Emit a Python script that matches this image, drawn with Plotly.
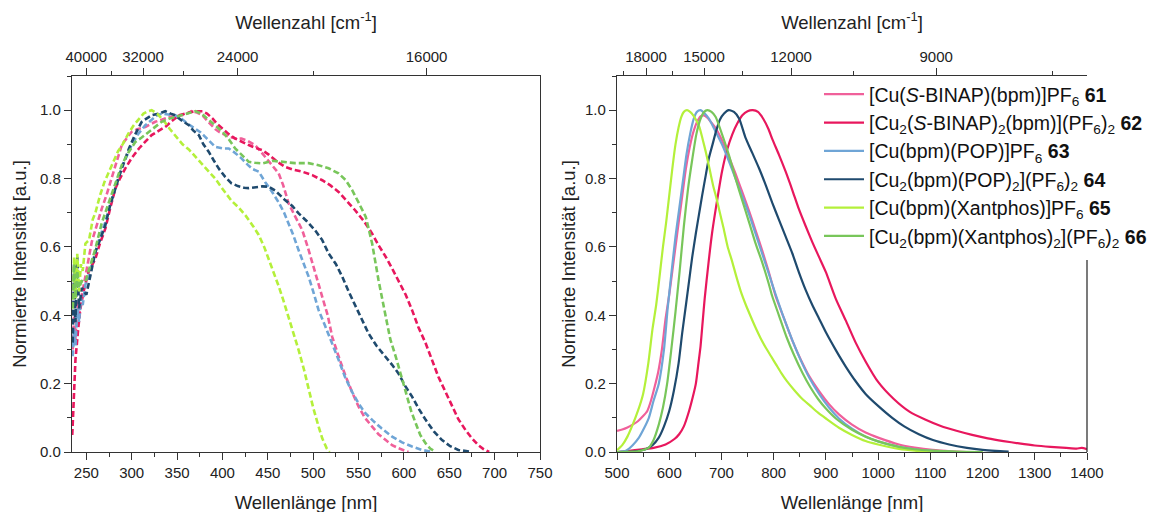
import plotly.graph_objects as go

# ---------------- data: left panel (excitation / absorption, dashed) ----------------
abs61_nm = [235, 236.5, 238, 240, 242, 245, 248, 252, 256, 260, 263, 267, 272, 278, 284, 289, 295, 300, 307, 315, 320, 326, 333, 341, 348, 355, 361, 366, 372, 378, 383, 388, 392, 396, 401, 407, 414, 421, 428, 436, 442, 448, 455, 462, 467, 473, 480, 488, 494, 499, 505, 510, 516, 521, 528, 536, 543, 550, 557, 565, 572, 580, 587, 594, 600, 605]
abs61_y = [0.30, 0.40, 0.33, 0.44, 0.40, 0.46, 0.50, 0.56, 0.615, 0.65, 0.68, 0.712, 0.75, 0.80, 0.85, 0.898, 0.92, 0.937, 0.945, 0.951, 0.958, 0.966, 0.972, 0.98, 0.983, 0.985, 0.99, 0.997, 0.993, 0.985, 0.97, 0.956, 0.945, 0.937, 0.93, 0.922, 0.918, 0.917, 0.91, 0.898, 0.88, 0.86, 0.84, 0.815, 0.78, 0.727, 0.69, 0.649, 0.60, 0.552, 0.50, 0.454, 0.40, 0.337, 0.28, 0.22, 0.175, 0.133, 0.10, 0.074, 0.052, 0.035, 0.02, 0.011, 0.004, 0.0]

abs62_nm = [234.5, 236, 238, 241, 243.5, 247, 252.5, 256, 260, 265, 271, 276, 282, 287, 293, 300, 308, 315, 322, 330, 337, 344, 352, 359, 366, 372, 378, 383, 389, 394, 400, 407, 414, 421, 429, 436, 444, 451, 460, 469, 478, 488, 499, 510, 519, 528, 537, 546, 556, 565, 572, 580, 587, 594, 602, 609, 616, 624, 631, 638, 646, 653, 660, 668, 675, 682, 688, 694]
abs62_y = [0.05, 0.16, 0.27, 0.36, 0.42, 0.47, 0.527, 0.545, 0.566, 0.61, 0.654, 0.71, 0.771, 0.80, 0.83, 0.86, 0.888, 0.908, 0.927, 0.94, 0.951, 0.968, 0.985, 0.99, 0.995, 0.997, 0.997, 0.99, 0.976, 0.96, 0.946, 0.93, 0.917, 0.907, 0.898, 0.89, 0.883, 0.87, 0.85, 0.834, 0.826, 0.82, 0.81, 0.795, 0.78, 0.761, 0.735, 0.708, 0.675, 0.639, 0.605, 0.571, 0.537, 0.503, 0.46, 0.415, 0.365, 0.318, 0.27, 0.22, 0.175, 0.133, 0.096, 0.064, 0.04, 0.02, 0.008, 0.0]

abs63_nm = [235, 236.5, 238, 240, 242, 244, 246, 249, 253, 256, 260, 265, 271, 278, 285, 292, 300, 307, 315, 322, 328, 333, 340, 348, 355, 362, 370, 376, 381, 387, 392, 400, 407, 414, 421, 428, 433, 440, 447, 455, 462, 468, 473, 478, 484, 490, 495, 500, 506, 513, 521, 528, 535, 543, 550, 557, 565, 575, 587, 598, 609, 620, 631]
abs63_y = [0.28, 0.36, 0.31, 0.42, 0.38, 0.45, 0.43, 0.49, 0.52, 0.55, 0.586, 0.63, 0.673, 0.74, 0.80, 0.85, 0.898, 0.93, 0.956, 0.972, 0.985, 0.99, 0.987, 0.985, 0.975, 0.96, 0.946, 0.935, 0.922, 0.905, 0.893, 0.888, 0.888, 0.875, 0.859, 0.84, 0.828, 0.82, 0.79, 0.76, 0.73, 0.70, 0.669, 0.635, 0.59, 0.55, 0.513, 0.47, 0.415, 0.37, 0.318, 0.27, 0.22, 0.175, 0.142, 0.115, 0.094, 0.07, 0.045, 0.028, 0.016, 0.006, 0.0]

abs64_nm = [235, 236.5, 238, 240, 242, 245, 250, 255, 260, 265, 271, 276, 282, 289, 297, 304, 311, 317, 322, 330, 337, 343, 348, 355, 363, 368, 374, 379, 385, 390, 396, 403, 410, 417, 424, 429, 436, 444, 451, 458, 464, 469, 477, 484, 493, 502, 510, 517, 525, 532, 539, 547, 554, 561, 570, 580, 587, 594, 601, 609, 616, 624, 633, 642, 651, 660, 668, 675]
abs64_y = [0.32, 0.55, 0.38, 0.57, 0.42, 0.48, 0.46, 0.52, 0.586, 0.62, 0.664, 0.72, 0.771, 0.83, 0.888, 0.93, 0.966, 0.977, 0.985, 0.99, 0.997, 0.99, 0.985, 0.97, 0.956, 0.94, 0.927, 0.90, 0.878, 0.855, 0.829, 0.805, 0.786, 0.778, 0.773, 0.772, 0.775, 0.777, 0.776, 0.765, 0.75, 0.737, 0.72, 0.698, 0.675, 0.649, 0.62, 0.581, 0.55, 0.513, 0.47, 0.425, 0.385, 0.347, 0.31, 0.279, 0.255, 0.23, 0.195, 0.162, 0.128, 0.094, 0.06, 0.035, 0.017, 0.006, 0.002, 0.0]

abs65_nm = [235, 236.5, 238, 240, 242, 244, 246, 249, 253, 257, 260, 265, 270, 275, 280, 285, 290, 296, 302, 308, 313, 318, 322, 328, 335, 342, 348, 356, 363, 370, 378, 385, 392, 400, 410, 418, 426, 434, 440, 446, 451, 457, 462, 467, 473, 478, 484, 490, 495, 500, 506, 510, 515, 518]
abs65_y = [0.42, 0.57, 0.45, 0.58, 0.47, 0.55, 0.53, 0.61, 0.62, 0.68, 0.70, 0.75, 0.79, 0.82, 0.85, 0.88, 0.90, 0.93, 0.955, 0.975, 0.99, 0.997, 1.0, 0.99, 0.97, 0.945, 0.927, 0.90, 0.885, 0.864, 0.84, 0.82, 0.80, 0.77, 0.735, 0.715, 0.69, 0.66, 0.635, 0.60, 0.565, 0.52, 0.485, 0.445, 0.395, 0.35, 0.298, 0.24, 0.18, 0.13, 0.074, 0.04, 0.01, 0.0]

abs66_nm = [235, 236.5, 238, 240, 242, 245, 249, 254, 260, 267, 275, 282, 289, 296, 304, 311, 319, 326, 333, 341, 348, 355, 363, 370, 377, 385, 392, 400, 407, 414, 421, 429, 436, 444, 455, 469, 480, 495, 506, 517, 528, 536, 543, 550, 558, 565, 572, 580, 585, 591, 597, 602, 608, 613, 618, 624, 629, 635]
abs66_y = [0.42, 0.55, 0.45, 0.53, 0.48, 0.50, 0.498, 0.54, 0.595, 0.67, 0.732, 0.79, 0.839, 0.875, 0.907, 0.92, 0.937, 0.952, 0.966, 0.975, 0.98, 0.985, 0.99, 0.997, 0.99, 0.971, 0.955, 0.937, 0.915, 0.888, 0.87, 0.849, 0.846, 0.844, 0.852, 0.849, 0.845, 0.845, 0.839, 0.83, 0.815, 0.795, 0.766, 0.73, 0.688, 0.61, 0.503, 0.396, 0.33, 0.279, 0.22, 0.172, 0.12, 0.084, 0.05, 0.025, 0.01, 0.0]

# ---------------- data: right panel (emission, solid) ----------------
em61_nm = [500, 510, 520, 530, 540, 550, 558, 565, 572, 579, 586, 593, 600, 606, 612, 618, 625, 632, 639, 646, 653, 660, 666, 673, 680, 690, 701, 714, 727, 740, 753, 765, 778, 791, 804, 820, 836, 852, 868, 887, 906, 925, 950, 976, 1000, 1040, 1070, 1104, 1140, 1170]
em61_y = [0.062, 0.066, 0.072, 0.08, 0.09, 0.105, 0.12, 0.15, 0.19, 0.235, 0.30, 0.39, 0.46, 0.53, 0.60, 0.67, 0.75, 0.83, 0.89, 0.935, 0.965, 0.982, 0.985, 0.978, 0.965, 0.945, 0.912, 0.865, 0.814, 0.76, 0.705, 0.65, 0.59, 0.525, 0.455, 0.39, 0.325, 0.27, 0.222, 0.178, 0.14, 0.11, 0.08, 0.057, 0.042, 0.022, 0.013, 0.006, 0.002, 0.0]

em62_nm = [500, 520, 548, 570, 593, 610, 619, 628, 638, 645, 651, 656, 660, 664, 668, 675, 682, 690, 701, 711, 721, 730, 740, 750, 760, 770, 780, 790, 797, 810, 823, 836, 848, 861, 874, 887, 900, 919, 938, 957, 976, 1000, 1030, 1060, 1090, 1120, 1150, 1180, 1210, 1240, 1270, 1300, 1330, 1360, 1380, 1390, 1400]
em62_y = [0.0, 0.003, 0.008, 0.012, 0.022, 0.038, 0.052, 0.075, 0.12, 0.16, 0.20, 0.26, 0.31, 0.38, 0.45, 0.55, 0.64, 0.72, 0.82, 0.885, 0.93, 0.96, 0.985, 0.997, 1.0, 0.995, 0.975, 0.945, 0.917, 0.87, 0.82, 0.765, 0.712, 0.662, 0.614, 0.57, 0.526, 0.448, 0.385, 0.32, 0.265, 0.205, 0.155, 0.118, 0.095, 0.076, 0.062, 0.05, 0.04, 0.032, 0.025, 0.019, 0.015, 0.012, 0.01, 0.012, 0.008]

em63_nm = [500, 510, 517, 530, 542, 552, 561, 570, 580, 590, 597, 604, 612, 619, 626, 633, 640, 647, 653, 660, 668, 676, 688, 701, 714, 727, 740, 753, 765, 778, 791, 804, 820, 836, 852, 868, 887, 906, 925, 950, 976, 1000, 1040, 1070, 1104, 1150]
em63_y = [0.0, 0.002, 0.004, 0.02, 0.042, 0.07, 0.10, 0.15, 0.20, 0.30, 0.42, 0.52, 0.63, 0.71, 0.79, 0.87, 0.93, 0.975, 0.995, 1.0, 0.99, 0.975, 0.94, 0.90, 0.852, 0.80, 0.748, 0.695, 0.64, 0.58, 0.52, 0.46, 0.39, 0.326, 0.268, 0.218, 0.17, 0.13, 0.098, 0.068, 0.045, 0.031, 0.015, 0.008, 0.003, 0.0]

em64_nm = [500, 517, 540, 555, 568, 580, 590, 600, 609, 618, 625, 632, 638, 644, 651, 657, 663, 670, 676, 683, 690, 697, 705, 714, 724, 734, 746, 759, 772, 785, 797, 810, 823, 836, 848, 861, 874, 887, 900, 919, 938, 957, 976, 1000, 1027, 1050, 1078, 1105, 1136, 1170, 1200, 1225, 1250]
em64_y = [0.0, 0.0, 0.003, 0.008, 0.02, 0.042, 0.075, 0.12, 0.18, 0.26, 0.35, 0.43, 0.50, 0.57, 0.64, 0.695, 0.75, 0.81, 0.86, 0.90, 0.94, 0.972, 0.99, 1.0, 0.995, 0.975, 0.92, 0.875, 0.83, 0.78, 0.73, 0.68, 0.63, 0.58, 0.527, 0.475, 0.43, 0.39, 0.35, 0.298, 0.25, 0.207, 0.17, 0.135, 0.10, 0.075, 0.052, 0.035, 0.022, 0.012, 0.006, 0.003, 0.001]

em65_nm = [500, 510, 520, 530, 540, 550, 560, 568, 575, 582, 588, 594, 600, 606, 612, 618, 623, 628, 634, 640, 646, 652, 658, 664, 670, 677, 684, 690, 697, 704, 712, 720, 728, 737, 746, 755, 765, 775, 785, 795, 805, 815, 825, 840, 855, 870, 885, 900, 925, 950, 976, 1000, 1040, 1070, 1104, 1150, 1200]
em65_y = [0.005, 0.02, 0.045, 0.08, 0.12, 0.17, 0.26, 0.36, 0.43, 0.52, 0.60, 0.67, 0.75, 0.83, 0.90, 0.95, 0.98, 0.995, 1.0, 0.995, 0.985, 0.97, 0.95, 0.915, 0.878, 0.83, 0.78, 0.745, 0.70, 0.655, 0.60, 0.56, 0.516, 0.47, 0.433, 0.40, 0.365, 0.333, 0.305, 0.28, 0.255, 0.23, 0.208, 0.18, 0.155, 0.135, 0.115, 0.098, 0.071, 0.05, 0.032, 0.022, 0.009, 0.004, 0.001, 0.0, 0.0]

em66_nm = [500, 540, 550, 561, 570, 580, 588, 596, 604, 612, 620, 628, 636, 644, 652, 660, 667, 673, 681, 689, 701, 714, 727, 740, 753, 765, 778, 791, 797, 810, 825, 840, 855, 870, 885, 900, 919, 950, 976, 1000, 1040, 1070, 1104, 1150, 1200]
em66_y = [0.0, 0.002, 0.006, 0.013, 0.035, 0.08, 0.13, 0.20, 0.30, 0.41, 0.53, 0.66, 0.77, 0.855, 0.93, 0.975, 0.995, 1.0, 0.995, 0.98, 0.93, 0.87, 0.80, 0.735, 0.672, 0.612, 0.555, 0.49, 0.457, 0.40, 0.335, 0.28, 0.232, 0.19, 0.155, 0.127, 0.098, 0.065, 0.045, 0.031, 0.015, 0.008, 0.004, 0.001, 0.0]

series_names = [
    "[Cu(<i>S</i>-BINAP)(bpm)]PF<sub>6</sub> <b>61</b>",
    "[Cu<sub>2</sub>(<i>S</i>-BINAP)<sub>2</sub>(bpm)](PF<sub>6</sub>)<sub>2</sub> <b>62</b>",
    "[Cu(bpm)(POP)]PF<sub>6</sub> <b>63</b>",
    "[Cu<sub>2</sub>(bpm)(POP)<sub>2</sub>](PF<sub>6</sub>)<sub>2</sub> <b>64</b>",
    "[Cu(bpm)(Xantphos)]PF<sub>6</sub> <b>65</b>",
    "[Cu<sub>2</sub>(bpm)(Xantphos)<sub>2</sub>](PF<sub>6</sub>)<sub>2</sub> <b>66</b>",
]
series_colors = ["#F0609A", "#E8175D", "#6FA5D6", "#1F4A6E", "#B4F03A", "#78C65A"]

abs_data = [(abs61_nm, abs61_y), (abs62_nm, abs62_y), (abs63_nm, abs63_y),
            (abs64_nm, abs64_y), (abs65_nm, abs65_y), (abs66_nm, abs66_y)]
em_data = [(em61_nm, em61_y), (em62_nm, em62_y), (em63_nm, em63_y),
           (em64_nm, em64_y), (em65_nm, em65_y), (em66_nm, em66_y)]

# top-axis (wavenumber) ticks
left_wn_major = [40000, 32000, 24000, 16000]
left_wn_minor = [36000, 28000, 20000]
right_wn_major = [18000, 15000, 12000, 9000]
right_wn_minor = [19500, 16500, 13500, 10500, 7500]

FONT = "Liberation Sans, Arial, sans-serif"
AX = "#333333"

fig = go.Figure()

for (x, y), c in zip(abs_data, series_colors):
    fig.add_trace(go.Scatter(x=x, y=y, mode="lines", xaxis="x", yaxis="y",
                             line=dict(color=c, width=2.6, dash="6px,3px"),
                             showlegend=False, hoverinfo="skip"))

for (x, y), c, n in zip(em_data, series_colors, series_names):
    fig.add_trace(go.Scatter(x=x, y=y, mode="lines", xaxis="x3", yaxis="y2",
                             line=dict(color=c, width=2.2, shape="spline", smoothing=0.6),
                             name=n, showlegend=True, hoverinfo="skip"))

# empty traces to activate the top axes
fig.add_trace(go.Scatter(x=[], y=[], xaxis="x2", yaxis="y", showlegend=False))
fig.add_trace(go.Scatter(x=[], y=[], xaxis="x4", yaxis="y2", showlegend=False))


def minor_axis(**kw):
    d = dict(ticks="outside", ticklen=4, tickwidth=1.2, tickcolor=AX, showgrid=False)
    d.update(kw)
    return d


def base_axis(**kw):
    d = dict(showline=True, linecolor=AX, linewidth=1.3, ticks="outside", ticklen=7,
             tickwidth=1.3, tickcolor=AX, showgrid=False, zeroline=False,
             automargin=False, tickfont=dict(size=15, color="#222", family=FONT))
    d.update(kw)
    return d


YDOM = [1 - 444 / 512, 1 - 68 / 512]
LDOM = [64 / 1156, 532 / 1156]
RDOM = [609 / 1156, 1079 / 1156]
LRANGE = [234.2, 750]
RRANGE = [500, 1400]
TITLEFONT = dict(size=18.5, color="#222", family=FONT)

fig.update_layout(
    width=1156, height=512, margin=dict(l=0, r=0, t=0, b=0),
    paper_bgcolor="white", plot_bgcolor="white", template="none",
    font=dict(family=FONT, color="#222"),
    xaxis=base_axis(domain=LDOM, range=LRANGE, anchor="y", tick0=250, dtick=50,
                    minor=minor_axis(dtick=25, tick0=250),
                    title=dict(text="Wellenlänge [nm]", font=TITLEFONT, standoff=15)),
    xaxis2=base_axis(overlaying="x", side="top", anchor="y", range=LRANGE,
                     tickmode="array", tickvals=[1e7 / w for w in left_wn_major],
                     ticktext=[str(w) for w in left_wn_major],
                     minor=minor_axis(tickmode="array", tickvals=[1e7 / w for w in left_wn_minor]),
                     title=dict(text="Wellenzahl [cm<sup>-1</sup>]", font=TITLEFONT, standoff=13)),
    yaxis=base_axis(domain=YDOM, range=[0, 1.1], anchor="x", tick0=0, dtick=0.2, tickformat=".1f",
                    mirror=True, minor=minor_axis(dtick=0.1, tick0=0),
                    title=dict(text="Normierte Intensität [a.u.]", font=TITLEFONT, standoff=8)),
    xaxis3=base_axis(domain=RDOM, range=RRANGE, anchor="y2", tick0=500, dtick=100,
                     minor=minor_axis(dtick=50, tick0=500),
                     title=dict(text="Wellenlänge [nm]", font=TITLEFONT, standoff=15)),
    xaxis4=base_axis(overlaying="x3", side="top", anchor="y2", range=RRANGE,
                     tickmode="array", tickvals=[1e7 / w for w in right_wn_major],
                     ticktext=[str(w) for w in right_wn_major],
                     minor=minor_axis(tickmode="array", tickvals=[1e7 / w for w in right_wn_minor]),
                     title=dict(text="Wellenzahl [cm<sup>-1</sup>]", font=TITLEFONT, standoff=13)),
    yaxis2=base_axis(domain=YDOM, range=[0, 1.1], anchor="x3", tick0=0, dtick=0.2, tickformat=".1f",
                     mirror=False, minor=minor_axis(dtick=0.1, tick0=0),
                     title=dict(text="Normierte Intensität [a.u.]", font=TITLEFONT, standoff=4)),
    legend=dict(x=811 / 1156, y=1 - 67 / 512, xanchor="left", yanchor="top",
                bgcolor="rgba(0,0,0,0)", borderwidth=0, font=dict(size=19.5, color="#111", family=FONT),
                itemwidth=40, tracegroupgap=0),
    # right frame edge of the emission panel, visible only below the legend (as in the original)
    shapes=[dict(type="line", xref="paper", yref="paper", x0=RDOM[1], x1=RDOM[1],
                 y0=YDOM[0], y1=1 - 252 / 512, line=dict(color=AX, width=1.3), layer="above")],
)

fig.write_html("out.html")
